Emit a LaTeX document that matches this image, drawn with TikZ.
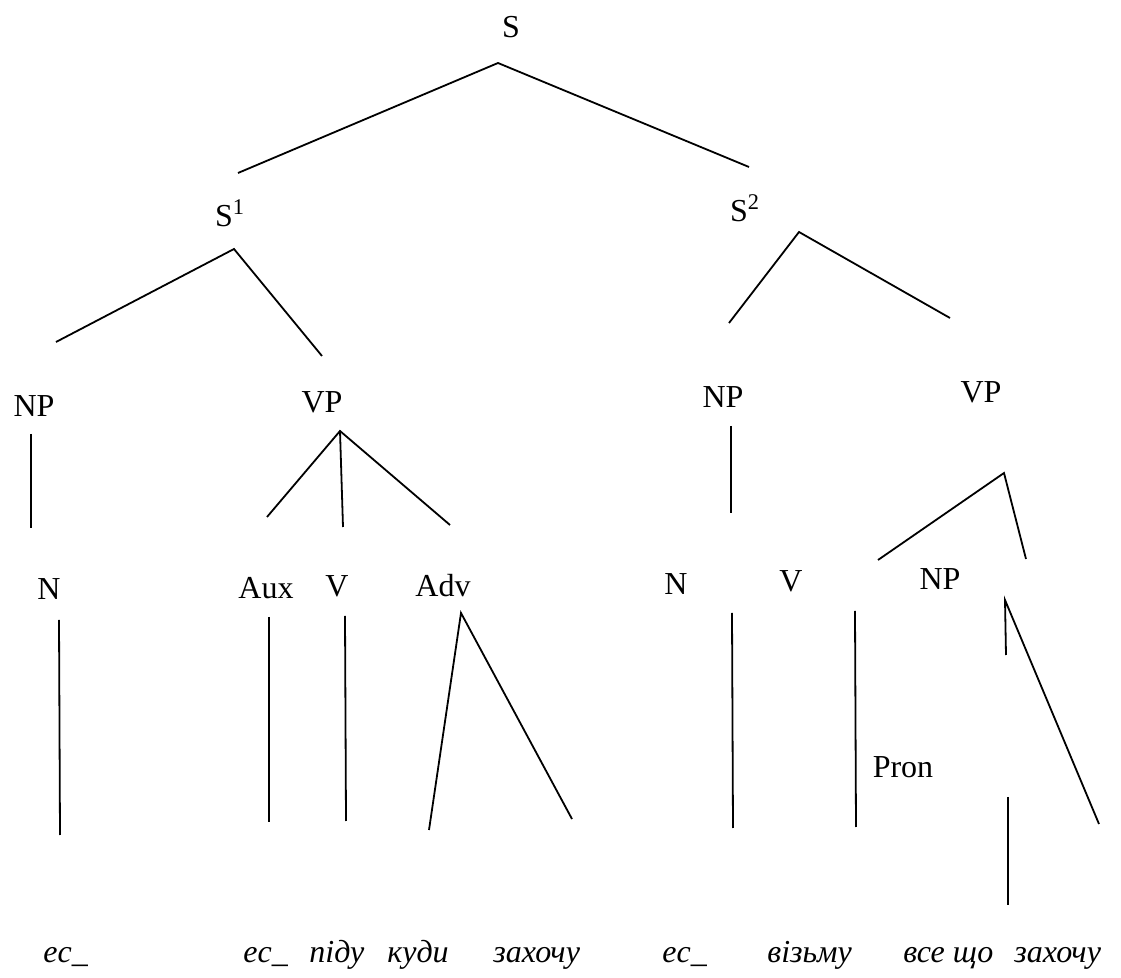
\documentclass[tikz,border=0pt]{standalone}
\usepackage{fontspec}
\setmainfont{Liberation Serif}
\begin{document}
\begin{tikzpicture}[x=0.5pt,y=-0.5pt,
  lab/.style={anchor=base,inner sep=0pt,font=\fontsize{16}{19}\selectfont},
  word/.style={anchor=base west,inner sep=0pt,font=\fontsize{16}{19}\selectfont\itshape},
  br/.style={line width=0.9pt,black}]
\useasboundingbox (0,0) rectangle (1121,978);
% labels
\node[lab] (S) at (511,38) {S};
\node[lab] (S1) at (230,227) {S\textsuperscript{1}};
\node[lab] (S2) at (745,222) {S\textsuperscript{2}};
\node[lab] (NP1) at (34,417) {NP};
\node[lab] (VP1) at (322,413) {VP};
\node[lab] (NP2) at (723,408) {NP};
\node[lab] (VP2) at (981,403) {VP};
\node[lab] (N1) at (49,600) {N};
\node[lab] (Aux) at (266,599) {Aux};
\node[lab] (V1) at (337,597) {V};
\node[lab] (Adv) at (443,597) {Adv};
\node[lab] (N2) at (676,595) {N};
\node[lab] (V2) at (791,592) {V};
\node[lab] (NP3) at (940,590) {NP};
\node[lab] (Pron) at (903,778) {Pron};
% words
\node[word] (w1) at (43,963) {ec\_};
\node[word] (w2) at (243,963) {ec\_};
\node[word] (w3) at (309,963) {піду};
\node[word] (w4) at (387,963) {куди};
\node[word] (w5) at (493,963) {захочу};
\node[word] (w6) at (662,963) {ec\_};
\node[word] (w7) at (767,963) {візьму};
\node[word] (w8) at (903,963) {все що};
\node[word] (w9) at (1014,963) {захочу};
% branch points
\coordinate (aS) at (498,63);
\coordinate (eS1) at (238,173);
\coordinate (eS2) at (749,167);
\coordinate (aS1) at (234,249);
\coordinate (eNP1) at (56,342);
\coordinate (eVP1) at (322,356);
\coordinate (aS2) at (799,232);
\coordinate (eNP2) at (729,323);
\coordinate (eVP2) at (950,318);
\coordinate (tNP1) at (31,434);
\coordinate (bNP1) at (31,528);
\coordinate (aVP1) at (340,431);
\coordinate (eAux) at (267,517);
\coordinate (eV1) at (343,527);
\coordinate (eAdv) at (450,525);
\coordinate (tNP2) at (731,426);
\coordinate (bNP2) at (731,513);
\coordinate (aVP2) at (1004,473);
\coordinate (eVP2l) at (878,560);
\coordinate (eVP2r) at (1026,559);
\coordinate (tN1) at (59,620);
\coordinate (bN1) at (60,835);
\coordinate (tAux) at (269,617);
\coordinate (bAux) at (269,822);
\coordinate (tV1) at (345,616);
\coordinate (bV1) at (346,821);
\coordinate (aAdv) at (461,613);
\coordinate (eAdvl) at (429,830);
\coordinate (eAdvr) at (572,819);
\coordinate (tN2) at (732,613);
\coordinate (bN2) at (733,828);
\coordinate (tV2) at (855,611);
\coordinate (bV2) at (856,827);
\coordinate (aNP3) at (1005,600);
\coordinate (bNP3v) at (1006,655);
\coordinate (eNP3r) at (1099,824);
\coordinate (tPr) at (1008,797);
\coordinate (bPr) at (1008,905);
% branches
\draw[br] (eS1) -- (aS) -- (eS2);
\draw[br] (eNP1) -- (aS1) -- (eVP1);
\draw[br] (eNP2) -- (aS2) -- (eVP2);
\draw[br] (tNP1) -- (bNP1);
\draw[br] (eAux) -- (aVP1) -- (eAdv);
\draw[br] (aVP1) -- (eV1);
\draw[br] (tNP2) -- (bNP2);
\draw[br] (eVP2l) -- (aVP2) -- (eVP2r);
\draw[br] (tN1) -- (bN1);
\draw[br] (tAux) -- (bAux);
\draw[br] (tV1) -- (bV1);
\draw[br] (eAdvl) -- (aAdv) -- (eAdvr);
\draw[br] (tN2) -- (bN2);
\draw[br] (tV2) -- (bV2);
\draw[br] (bNP3v) -- (aNP3) -- (eNP3r);
\draw[br] (tPr) -- (bPr);
\end{tikzpicture}
\end{document}
